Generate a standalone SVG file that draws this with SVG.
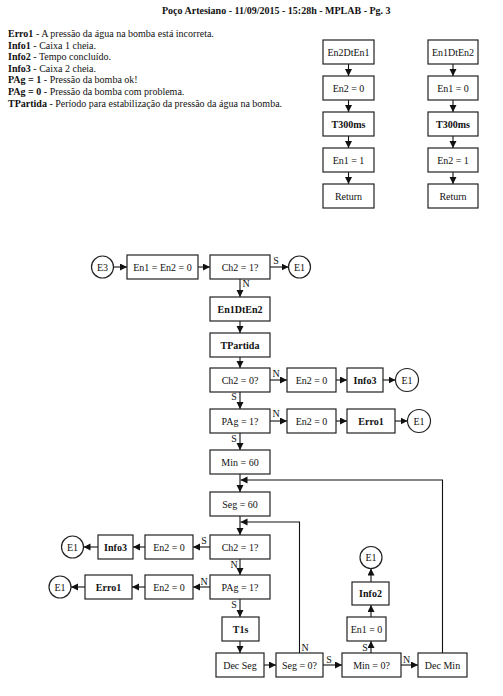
<svg xmlns="http://www.w3.org/2000/svg" width="503" height="696" viewBox="0 0 503 696">
<style>
.bg{fill:#fff}
.box{fill:#fff;stroke:#222;stroke-width:1.2}
.c{fill:#fff;stroke:#222;stroke-width:1.2}
.t{font-family:"Liberation Serif","Times New Roman",serif;font-size:10px;text-anchor:middle;fill:#111}
.b{font-weight:bold}
.l{font-family:"Liberation Serif","Times New Roman",serif;font-size:10px;fill:#111}
.e{stroke:#111;stroke-width:1.1;fill:none;marker-end:url(#ah)}
.lbl{font-family:"Liberation Serif","Times New Roman",serif;font-size:10px;text-anchor:middle;fill:#111}
</style>
<defs>
<marker id="ah" markerWidth="8" markerHeight="8" refX="7" refY="3.5" orient="auto" markerUnits="userSpaceOnUse"><path d="M0,0 L7,3.5 L0,7 z" fill="#111"/></marker>
</defs>
<rect class="bg" x="0" y="0" width="503" height="696"/>
<text class="l b" x="162" y="14">Poço Artesiano - 11/09/2015 - 15:28h - MPLAB - Pg. 3</text>
<g id="legend" class="l">
<text x="8" y="37"><tspan font-weight="bold">Erro1</tspan> - A pressão da água na bomba está incorreta.</text>
<text x="8" y="48.6"><tspan font-weight="bold">Info1</tspan> - Caixa 1 cheia.</text>
<text x="8" y="60.2"><tspan font-weight="bold">Info2</tspan> - Tempo concluído.</text>
<text x="8" y="71.8"><tspan font-weight="bold">Info3</tspan> - Caixa 2 cheia.</text>
<text x="8" y="83.4"><tspan font-weight="bold">PAg = 1</tspan> - Pressão da bomba ok!</text>
<text x="8" y="95"><tspan font-weight="bold">PAg = 0</tspan> - Pressão da bomba com problema.</text>
<text x="8" y="106.6"><tspan font-weight="bold">TPartida</tspan> - Período para estabilização da pressão da água na bomba.</text>
</g>
<g id="connectors">
<path class="e" d="M348.5,64 V76"/>
<path class="e" d="M348.5,100 V112"/>
<path class="e" d="M348.5,136 V148"/>
<path class="e" d="M348.5,172 V184"/>
<path class="e" d="M453,64 V76"/>
<path class="e" d="M453,100 V112"/>
<path class="e" d="M453,136 V148"/>
<path class="e" d="M453,172 V184"/>
<path class="e" d="M113.5,267 H127"/>
<path class="e" d="M198,267 H210"/>
<path class="e" d="M270,267 H288.5"/>
<path class="e" d="M240,279 V297"/>
<path class="e" d="M240,321 V333"/>
<path class="e" d="M240,357 V368"/>
<path class="e" d="M270,380 H287"/>
<path class="e" d="M336,380 H347"/>
<path class="e" d="M383,380 H395.5"/>
<path class="e" d="M240,392 V409"/>
<path class="e" d="M270,421 H287"/>
<path class="e" d="M336,421 H347"/>
<path class="e" d="M395,421 H407.5"/>
<path class="e" d="M240,433 V450"/>
<path class="e" d="M240,474 V492"/>
<path class="e" d="M240,516 V535"/>
<path class="e" d="M210,547 H193"/>
<path class="e" d="M145,547 H133"/>
<path class="e" d="M98,547 H83.5"/>
<path class="e" d="M240,559 V575"/>
<path class="e" d="M210,587 H193"/>
<path class="e" d="M145,587 H132"/>
<path class="e" d="M85,587 H71"/>
<path class="e" d="M240,599 V617"/>
<path class="e" d="M240,641 V653"/>
<path class="e" d="M264,665 H276"/>
<path class="e" d="M299.5,653 V522 H240.5"/>
<path class="e" d="M323,665 H342"/>
<path class="e" d="M371,653 V641"/>
<path class="e" d="M371,617 V605"/>
<path class="e" d="M371,582 V568.5"/>
<path class="e" d="M401,665 H418"/>
<path class="e" d="M442.5,653 V480 H240.5"/>
<text class="lbl" x="276" y="263.5">S</text>
<text class="lbl" x="246" y="287">N</text>
<text class="lbl" x="276" y="377">N</text>
<text class="lbl" x="234" y="400">S</text>
<text class="lbl" x="276" y="417">N</text>
<text class="lbl" x="234" y="442">S</text>
<text class="lbl" x="204" y="543.5">S</text>
<text class="lbl" x="234" y="567.5">N</text>
<text class="lbl" x="204" y="585">N</text>
<text class="lbl" x="234" y="608">S</text>
<text class="lbl" x="305" y="651">N</text>
<text class="lbl" x="329" y="663">S</text>
<text class="lbl" x="365" y="651">S</text>
<text class="lbl" x="406.5" y="663">N</text>
</g>
<g id="sA1"><rect class="box" x="323" y="40" width="51" height="24"/><text class="t" x="348.5" y="55.5">En2DtEn1</text></g>
<g id="sA2"><rect class="box" x="323" y="76" width="51" height="24"/><text class="t" x="348.5" y="91.5">En2 = 0</text></g>
<g id="sA3"><rect class="box" x="323" y="112" width="51" height="24"/><text class="t b" x="348.5" y="127.5">T300ms</text></g>
<g id="sA4"><rect class="box" x="323" y="148" width="51" height="24"/><text class="t" x="348.5" y="163.5">En1 = 1</text></g>
<g id="sA5"><rect class="box" x="323" y="184" width="51" height="24"/><text class="t" x="348.5" y="199.5">Return</text></g>
<g id="sB1"><rect class="box" x="428" y="40" width="50" height="24"/><text class="t" x="453" y="55.5">En1DtEn2</text></g>
<g id="sB2"><rect class="box" x="428" y="76" width="50" height="24"/><text class="t" x="453" y="91.5">En1 = 0</text></g>
<g id="sB3"><rect class="box" x="428" y="112" width="50" height="24"/><text class="t b" x="453" y="127.5">T300ms</text></g>
<g id="sB4"><rect class="box" x="428" y="148" width="50" height="24"/><text class="t" x="453" y="163.5">En2 = 1</text></g>
<g id="sB5"><rect class="box" x="428" y="184" width="50" height="24"/><text class="t" x="453" y="199.5">Return</text></g>
<g id="E3"><circle class="c" cx="102.5" cy="267" r="11"/><text class="t" x="102.5" y="270.5">E3</text></g>
<g id="n1"><rect class="box" x="127" y="255" width="71" height="24"/><text class="t" x="162.5" y="270.5">En1 = En2 = 0</text></g>
<g id="n2"><rect class="box" x="210" y="255" width="60" height="24"/><text class="t" x="240" y="270.5">Ch2 = 1?</text></g>
<g id="e1a"><circle class="c" cx="299.5" cy="267" r="11"/><text class="t" x="299.5" y="270.5">E1</text></g>
<g id="n3"><rect class="box" x="210" y="297" width="60" height="24"/><text class="t b" x="240" y="312.5">En1DtEn2</text></g>
<g id="n4"><rect class="box" x="210" y="333" width="60" height="24"/><text class="t b" x="240" y="348.5">TPartida</text></g>
<g id="n5"><rect class="box" x="210" y="368" width="60" height="24"/><text class="t" x="240" y="383.5">Ch2 = 0?</text></g>
<g id="n6"><rect class="box" x="287" y="368" width="49" height="24"/><text class="t" x="311.5" y="383.5">En2 = 0</text></g>
<g id="n7"><rect class="box" x="347" y="368" width="36" height="24"/><text class="t b" x="365" y="383.5">Info3</text></g>
<g id="e1b"><circle class="c" cx="407" cy="380" r="11.5"/><text class="t" x="407" y="383.5">E1</text></g>
<g id="n8"><rect class="box" x="210" y="409" width="60" height="24"/><text class="t" x="240" y="424.5">PAg = 1?</text></g>
<g id="n9"><rect class="box" x="287" y="409" width="49" height="24"/><text class="t" x="311.5" y="424.5">En2 = 0</text></g>
<g id="n10"><rect class="box" x="347" y="409" width="48" height="24"/><text class="t b" x="371" y="424.5">Erro1</text></g>
<g id="e1c"><circle class="c" cx="419" cy="421" r="11.5"/><text class="t" x="419" y="424.5">E1</text></g>
<g id="n11"><rect class="box" x="210" y="450" width="60" height="24"/><text class="t" x="240" y="465.5">Min = 60</text></g>
<g id="n12"><rect class="box" x="210" y="492" width="60" height="24"/><text class="t" x="240" y="507.5">Seg = 60</text></g>
<g id="n13"><rect class="box" x="210" y="535" width="60" height="24"/><text class="t" x="240" y="550.5">Ch2 = 1?</text></g>
<g id="n14"><rect class="box" x="145" y="535" width="48" height="24"/><text class="t" x="169" y="550.5">En2 = 0</text></g>
<g id="n15"><rect class="box" x="98" y="535" width="35" height="24"/><text class="t b" x="115.5" y="550.5">Info3</text></g>
<g id="e1d"><circle class="c" cx="72.5" cy="547" r="11"/><text class="t" x="72.5" y="550.5">E1</text></g>
<g id="n16"><rect class="box" x="210" y="575" width="60" height="24"/><text class="t" x="240" y="590.5">PAg = 1?</text></g>
<g id="n17"><rect class="box" x="145" y="575" width="48" height="24"/><text class="t" x="169" y="590.5">En2 = 0</text></g>
<g id="n18"><rect class="box" x="85" y="575" width="47" height="24"/><text class="t b" x="108.5" y="590.5">Erro1</text></g>
<g id="e1e"><circle class="c" cx="60" cy="587" r="11"/><text class="t" x="60" y="590.5">E1</text></g>
<g id="n19"><rect class="box" x="222" y="617" width="37" height="24"/><text class="t b" x="240.5" y="632.5">T1s</text></g>
<g id="n20"><rect class="box" x="216" y="653" width="48" height="24"/><text class="t" x="240" y="668.5">Dec Seg</text></g>
<g id="n21"><rect class="box" x="276" y="653" width="47" height="24"/><text class="t" x="299.5" y="668.5">Seg = 0?</text></g>
<g id="n22"><rect class="box" x="342" y="653" width="59" height="24"/><text class="t" x="371.5" y="668.5">Min = 0?</text></g>
<g id="n23"><rect class="box" x="418" y="653" width="49" height="24"/><text class="t" x="442.5" y="668.5">Dec Min</text></g>
<g id="n24"><rect class="box" x="347" y="617" width="39" height="24"/><text class="t" x="366.5" y="632.5">En1 = 0</text></g>
<g id="n25"><rect class="box" x="352" y="582" width="37" height="23"/><text class="t b" x="370.5" y="597">Info2</text></g>
<g id="e1f"><circle class="c" cx="371" cy="557.5" r="11"/><text class="t" x="371" y="561">E1</text></g>
</svg>
